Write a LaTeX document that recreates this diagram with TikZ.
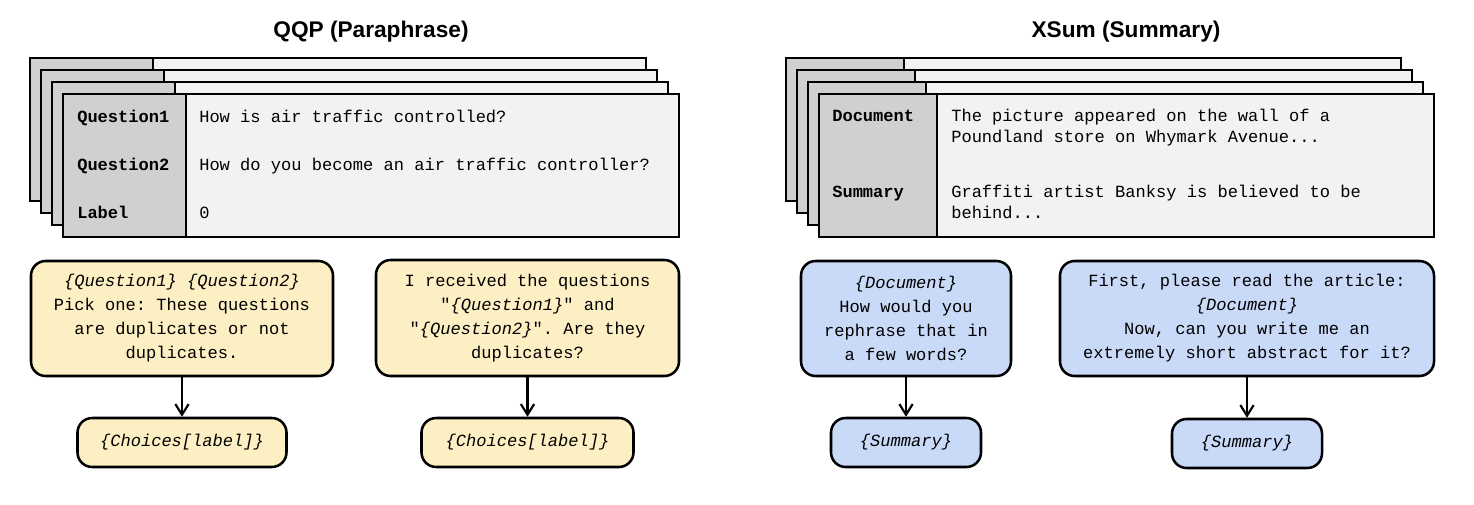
\documentclass[tikz,border=0pt]{standalone}
\usepackage{fontspec}
\setmainfont{Liberation Sans}
\setmonofont{Liberation Mono}
\usetikzlibrary{arrows.meta}

\definecolor{cardgrey}{RGB}{208,208,208}
\definecolor{cardlight}{RGB}{242,242,242}
\definecolor{promptyellow}{RGB}{253,239,196}
\definecolor{promptblue}{RGB}{201,218,248}

\tikzset{
  card/.style={line width=1.9pt},
  cardtext/.style={anchor=base west, inner sep=0pt, align=left, font=\ttfamily\fontsize{12.8}{15.75}\selectfont},
  cardlabel/.style={cardtext, font=\ttfamily\bfseries\fontsize{12.8}{15.75}\selectfont},
  prompt/.style={draw, line width=1.9pt, rounded corners=11pt, align=center, inner sep=0pt, font=\ttfamily\fontsize{12.8}{18}\selectfont},
  yellowbox/.style={prompt, fill=promptyellow},
  bluebox/.style={prompt, fill=promptblue},
  flow/.style={line width=1.6pt, -{Straight Barb[length=8pt,width=10pt]}},
  title/.style={font=\bfseries\fontsize{17}{20}\selectfont},
}

\begin{document}
\begin{tikzpicture}[x=0.75pt,y=0.75pt,yscale=-1,xscale=1]
\path[use as bounding box] (0,0) rectangle (1474,504);

% Text Node
\node[title] (qqptitle) at (371,32) {QQP (Paraphrase)};
% Text Node
\node[title] (xsumtitle) at (1126,32) {XSum (Summary)};

%Shape: Rectangle (QQP cards)
\foreach \i in {0,1,2,3}{
  \draw[card, fill=cardlight] (30+11*\i,58+12*\i) rectangle ++(616,143);
  \draw[card, fill=cardgrey] (30+11*\i,58+12*\i) rectangle ++(123,143);
}
%Shape: Rectangle (XSum cards)
\foreach \i in {0,1,2,3}{
  \draw[card, fill=cardlight] (786+11*\i,58+12*\i) rectangle ++(615,143);
  \draw[card, fill=cardgrey] (786+11*\i,58+12*\i) rectangle ++(118,143);
}

% Text Node
\node[cardlabel] (qonelabel) at (77,122) {Question1};
\node[cardtext] (qonetext) at (199,122) {How is air traffic controlled?};
\node[cardlabel] (qtwolabel) at (77,170) {Question2};
\node[cardtext] (qtwotext) at (199,170) {How do you become an air traffic controller?};
\node[cardlabel] (lbllabel) at (77,218) {Label};
\node[cardtext] (lbltext) at (199,218) {0};

% Text Node
\node[cardlabel] (doclabel) at (832,121) {Document};
\node[cardtext] (doctext) at (951,142) {The picture appeared on the wall of a\\Poundland store on Whymark Avenue...};
\node[cardlabel] (sumlabel) at (832,197) {Summary};
\node[cardtext] (sumtext) at (951,218) {Graffiti artist Banksy is believed to be\\behind...};

% Prompt boxes
\node[yellowbox, minimum width=226.5pt, minimum height=86.25pt] (qqpone) at (182,318.5)
  {\textit{\{Question1\}} \textit{\{Question2\}}\\Pick one: These questions\\are duplicates or not\\duplicates.};
\node[yellowbox, minimum width=227.25pt, minimum height=87pt] (qqptwo) at (527.5,318)
  {I received the questions\\"\textit{\{Question1\}}" and\\"\textit{\{Question2\}}". Are they\\duplicates?};
\node[bluebox, minimum width=157.5pt, minimum height=86.25pt] (xsumone) at (906,318.5)
  {\textit{\{Document\}}\\How would you\\rephrase that in\\a few words?};
\node[bluebox, minimum width=280.5pt, minimum height=86.25pt] (xsumtwo) at (1247,318.5)
  {First, please read the article:\\\textit{\{Document\}}\\Now, can you write me an\\extremely short abstract for it?};

% Answer boxes
\node[yellowbox, minimum width=156.75pt, minimum height=36.75pt] (qqpansone) at (182,442.5) {\textit{\{Choices[label]\}}};
\node[yellowbox, minimum width=159pt, minimum height=36.75pt] (qqpanstwo) at (527.5,442.5) {\textit{\{Choices[label]\}}};
\node[bluebox, minimum width=112.5pt, minimum height=36.75pt] (xsumansone) at (906,442.5) {\textit{\{Summary\}}};
\node[bluebox, minimum width=112.5pt, minimum height=36.75pt] (xsumanstwo) at (1247,443.5) {\textit{\{Summary\}}};

%Straight Lines
\draw[flow] (qqpone) -- (qqpansone);
\draw[flow] (qqptwo) -- (qqpanstwo);
\draw[flow] (xsumone) -- (xsumansone);
\draw[flow] (xsumtwo) -- (xsumanstwo);

\end{tikzpicture}
\end{document}
